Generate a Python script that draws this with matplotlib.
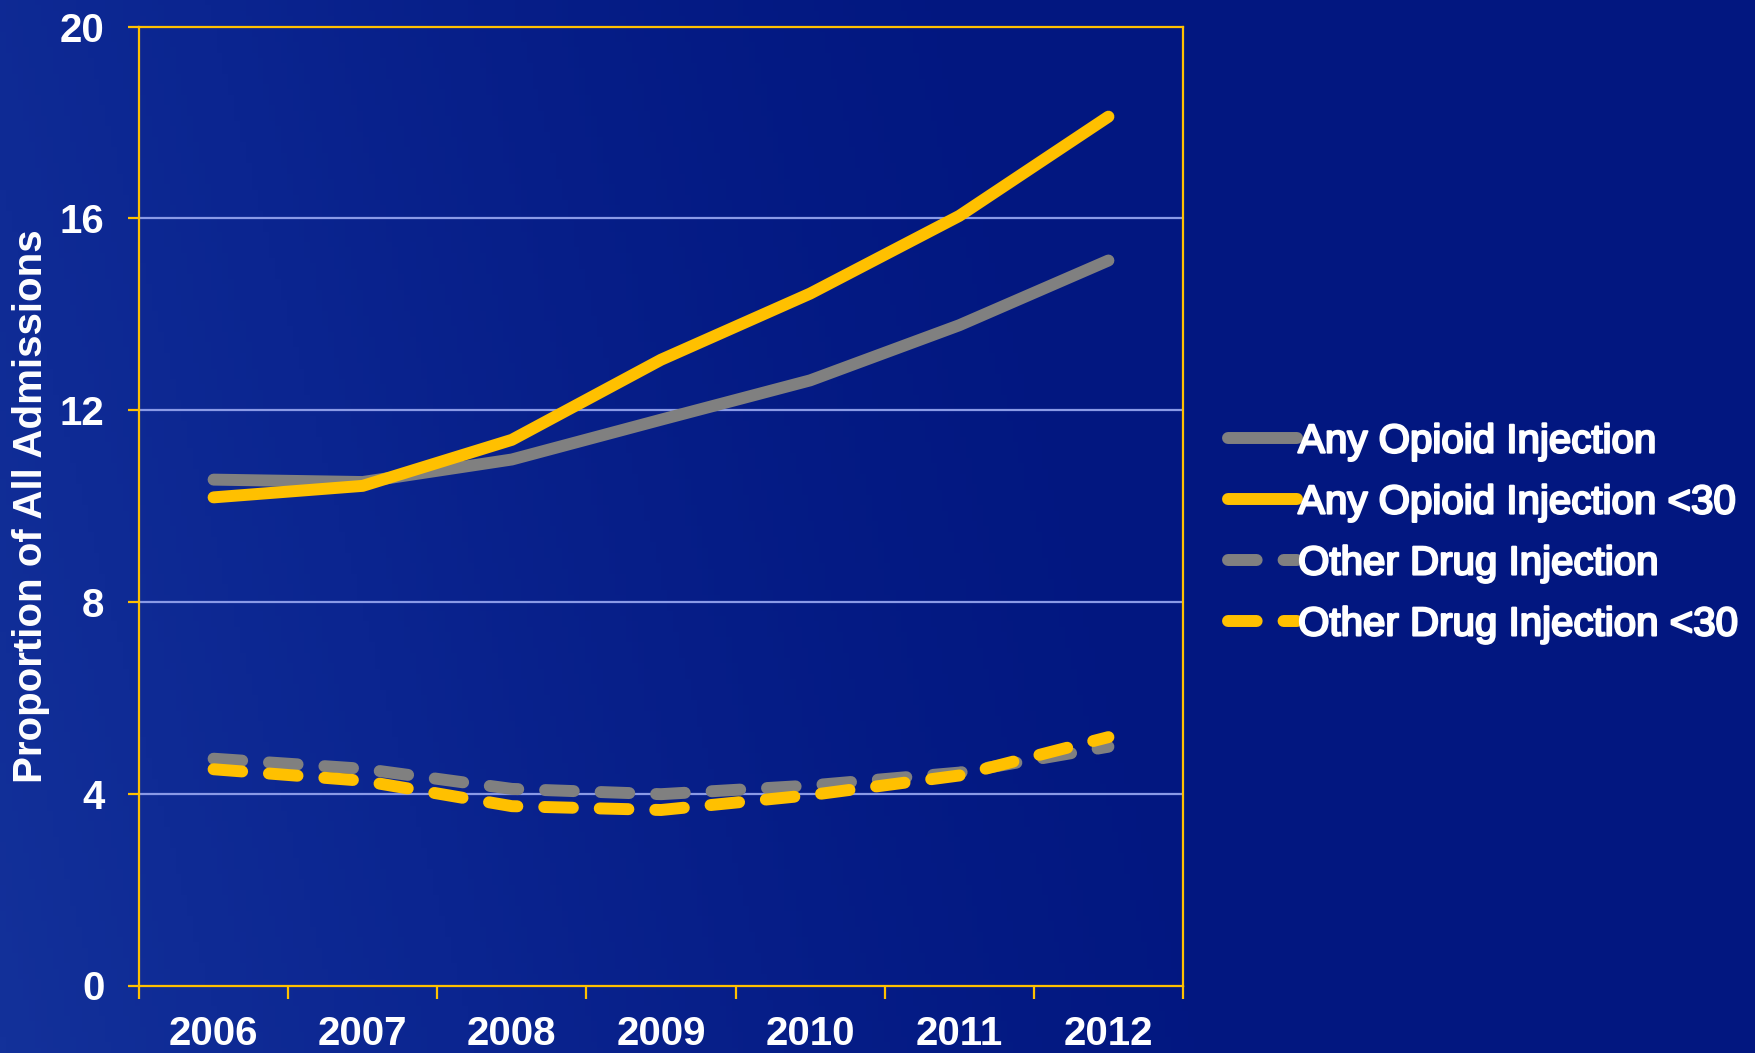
import numpy as np
import matplotlib
matplotlib.use("Agg")
import matplotlib.pyplot as plt
import matplotlib.patheffects as pe
from matplotlib.colors import LinearSegmentedColormap

years = ["2006", "2007", "2008", "2009", "2010", "2011", "2012"]
any_opioid = [10.55, 10.5, 10.97, 11.8, 12.62, 13.77, 15.12]
any_opioid_u30 = [10.18, 10.42, 11.38, 13.05, 14.43, 16.05, 18.12]
other_drug = [4.73, 4.52, 4.1, 3.99, 4.17, 4.44, 4.98]
other_drug_u30 = [4.51, 4.27, 3.74, 3.66, 3.97, 4.38, 5.18]
yticks = [0, 4, 8, 12, 16, 20]

GOLD = "#FFC000"
GRAY = "#808080"
WHITE = "white"

plt.rcParams['font.family'] = ['Liberation Sans', 'DejaVu Sans']

fig = plt.figure(figsize=(17.56, 10.53), dpi=100)
fig.patch.set_facecolor("#031a82")

# background gradient
bg = fig.add_axes([0, 0, 1, 1], zorder=-10)
bg.set_axis_off()
ny, nx = 200, 300
yy, xx = np.mgrid[0:1:ny*1j, 0:1:nx*1j]
val = np.clip(1.0 - (xx * 1.3 + (1 - yy) * 0.2), 0, 1)
val = val ** 1.6
cmap = LinearSegmentedColormap.from_list("bgc", ["#021780", "#0b2590", "#13319a"])
bg.imshow(val, cmap=cmap, aspect="auto", extent=[0, 1, 0, 1], origin="upper", vmin=0, vmax=1)
bg.set_xlim(0, 1); bg.set_ylim(0, 1)

ax = fig.add_axes([139/1756, 1 - 985.5/1053, (1183-139)/1756, (985.5-26.5)/1053])
ax.set_facecolor("none")

x = np.arange(len(years))
lw = 8.6
ax.plot(x, any_opioid, color=GRAY, lw=lw, solid_capstyle="round", solid_joinstyle="round",
        label="Any Opioid Injection", zorder=3)
ax.plot(x, any_opioid_u30, color=GOLD, lw=lw, solid_capstyle="round", solid_joinstyle="round",
        label="Any Opioid Injection <30", zorder=4)
ax.plot(x, other_drug, color=GRAY, lw=lw, dashes=(2.4, 2.25), dash_capstyle="round",
        label="Other Drug Injection", zorder=3)
ax.plot(x, other_drug_u30, color=GOLD, lw=lw, dashes=(2.4, 2.25), dash_capstyle="round",
        label="Other Drug Injection <30", zorder=4)

ax.set_xlim(-0.5, 6.5)
ax.set_ylim(0, 20)
ax.set_yticks(yticks)
ax.set_yticklabels([str(v) for v in yticks])
ax.set_xticks(np.arange(-0.5, 7, 1.0))
ax.set_xticklabels([])
ax.set_xticks(x, minor=True)
ax.set_xticklabels(years, minor=True)

for sp in ax.spines.values():
    sp.set_color(GOLD)
    sp.set_linewidth(1.6)

for g in [4, 8, 12, 16]:
    ax.axhline(g, color="#8a9ae6", lw=1.6, zorder=1)

ax.tick_params(axis="y", which="major", length=8, width=1.6, color=GOLD, direction="out",
               labelsize=29, labelcolor=WHITE, pad=17)
ax.tick_params(axis="x", which="major", length=9, width=1.6, color=GOLD, direction="out")
ax.tick_params(axis="x", which="minor", length=0, labelsize=29, labelcolor=WHITE, pad=21)
for lab in ax.get_yticklabels() + ax.get_xticklabels(minor=True):
    lab.set_fontweight("bold")

fig.text(31/1756, 1 - 506/1053, "Proportion of All Admissions", rotation=90, color=WHITE,
         fontsize=29, fontweight="bold", ha="center", va="center")

leg = fig.legend(loc="center left", bbox_to_anchor=(1228/1756, 1 - 533/1053), frameon=False,
                 fontsize=29, handlelength=1.72, handletextpad=0.02, labelspacing=0.57,
                 borderaxespad=0, borderpad=0)
for t in leg.get_texts():
    t.set_color(WHITE)
    t.set_path_effects([pe.withStroke(linewidth=1.6, foreground=WHITE)])

fig.savefig("out.png", dpi=100, facecolor=fig.get_facecolor())
